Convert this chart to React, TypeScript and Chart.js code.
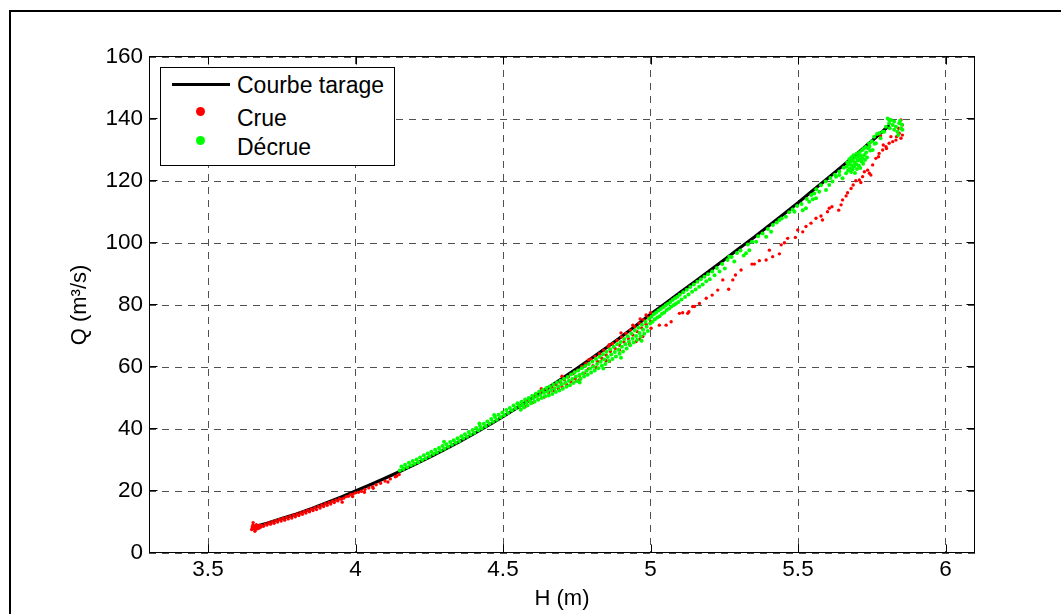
import React, { useEffect, useRef } from "react";
import { Chart, registerables } from "chart.js";

Chart.register(...registerables);

// ---- axis ticks ----
const xTickValues = [3.5, 4, 4.5, 5, 5.5, 6];
const yTickValues = [0, 20, 40, 60, 80, 100, 120, 140, 160];

// ---- rating curve (Courbe tarage) ----
const courbeH = [3.65, 3.7, 3.75, 3.8, 3.85, 3.9, 3.95, 4.0, 4.05, 4.1, 4.15, 4.2, 4.25, 4.3, 4.35, 4.4, 4.45, 4.5, 4.55, 4.6, 4.65, 4.7, 4.75, 4.8, 4.85, 4.9, 4.95, 5.0, 5.05, 5.1, 5.15, 5.2, 5.25, 5.3, 5.35, 5.4, 5.45, 5.5, 5.55, 5.6, 5.65, 5.7, 5.75, 5.81];
const courbeQ = [8.3, 9.6, 11.1, 12.6, 14.3, 16.1, 18.0, 20.0, 22.0, 24.1, 26.3, 28.5, 30.9, 33.3, 35.8, 38.4, 41.2, 44.0, 47.0, 50.0, 53.1, 56.3, 59.5, 62.8, 66.2, 69.7, 73.3, 77.0, 80.5, 84.0, 87.5, 91.0, 94.6, 98.2, 101.8, 105.5, 109.2, 113.0, 116.9, 120.8, 124.8, 128.8, 132.9, 138.0];

// ---- Crue (rising limb) [H, Q] ----
const crueLow: [number, number][] = [
  [3.648, 7.6], [3.65, 8.4], [3.652, 9.0], [3.653, 9.8], [3.655, 7.9], [3.657, 8.7], [3.659, 7.0], [3.66, 7.4], [3.662, 8.2], [3.664, 9.1], [3.667, 7.8], [3.669, 8.6], [3.672, 8.0], [3.675, 8.9], [3.678, 8.3],
  [3.682, 8.9], [3.688, 8.6], [3.694, 9.4], [3.7, 9.0], [3.706, 9.8], [3.712, 9.3], [3.718, 10.1], [3.724, 9.6], [3.73, 10.5], [3.736, 10.0], [3.742, 10.8], [3.748, 10.3], [3.754, 11.2], [3.76, 10.6], [3.766, 11.5], [3.772, 11.0], [3.778, 11.9], [3.784, 11.3], [3.79, 12.3], [3.796, 11.7],
  [3.802, 12.6], [3.808, 12.1], [3.814, 13.0], [3.82, 12.5], [3.826, 13.4], [3.832, 12.9], [3.838, 13.8], [3.844, 13.3], [3.85, 14.2], [3.856, 13.7], [3.862, 14.6], [3.868, 14.0], [3.874, 15.0], [3.88, 14.5], [3.886, 15.5], [3.892, 15.0], [3.898, 15.9],
  [3.904, 15.4], [3.91, 16.3], [3.916, 15.8], [3.922, 16.7], [3.928, 16.3], [3.934, 17.1], [3.94, 16.8], [3.946, 17.5], [3.952, 17.3], [3.96, 17.7], [3.968, 18.2], [3.976, 18.3], [3.984, 18.9], [3.992, 19.0],
  [4.0, 19.4], [4.01, 19.6], [4.02, 19.9], [4.032, 20.5], [4.045, 21.0], [4.058, 21.4], [4.07, 22.0], [4.085, 22.5], [4.1, 23.2], [4.118, 23.9], [4.135, 24.6], [4.148, 25.3],
  [3.955, 16.4], [3.99, 18.2], [4.03, 19.6], [4.06, 20.9], [4.11, 22.9], [4.14, 24.8],
];
const crueMid: [number, number][] = [
  [4.56, 46.3], [4.575, 47.2], [4.585, 48.9], [4.6, 48.5], [4.61, 50.7], [4.62, 49.5], [4.63, 52.0], [4.64, 50.3], [4.648, 52.8], [4.655, 51.8], [4.665, 53.5], [4.672, 52.4], [4.68, 54.3], [4.688, 53.0], [4.695, 55.1], [4.7, 53.6],
  [4.708, 55.9], [4.715, 54.4], [4.722, 56.8], [4.73, 55.2], [4.738, 57.9], [4.745, 56.3], [4.752, 59.0], [4.76, 57.1], [4.768, 60.2], [4.775, 58.0], [4.782, 61.2], [4.79, 59.4], [4.798, 62.5],
  [4.805, 60.4], [4.812, 63.4], [4.82, 61.8], [4.827, 64.3], [4.835, 62.8], [4.842, 65.4], [4.85, 63.8], [4.857, 66.5], [4.864, 65.0], [4.872, 67.6], [4.88, 66.0], [4.887, 68.6], [4.895, 67.0],
  [4.902, 69.7], [4.91, 68.1], [4.917, 70.8], [4.925, 69.2], [4.932, 71.9], [4.94, 70.3], [4.947, 73.0], [4.955, 71.4], [4.962, 74.1], [4.97, 72.6], [4.977, 75.2], [4.985, 73.8], [4.992, 76.0], [5.0, 74.8],
  [4.748, 55.5], [4.76, 56.0], [4.816, 59.8], [4.85, 62.0], [4.861, 61.8], [4.895, 65.5], [4.929, 67.4], [4.951, 68.2], [4.963, 69.0], [4.974, 69.8],
  [4.9, 71.0], [4.94, 73.5], [4.965, 75.5], [4.985, 76.8], [5.0, 77.5], [4.63, 53.0], [4.7, 57.0], [4.79, 62.3], [4.86, 67.2],
];
const crueHigh: [number, number][] = [
  [5.002, 72.5], [5.03, 73.5], [5.053, 73.5], [5.07, 74.6], [5.098, 77.3], [5.109, 77.5], [5.126, 77.3], [5.13, 77.8], [5.143, 79.5], [5.149, 79.5], [5.166, 80.5], [5.189, 82.2], [5.209, 83.2], [5.228, 84.8],
  [5.245, 88.1], [5.265, 85.1], [5.279, 88.1], [5.288, 89.7], [5.307, 91.3], [5.344, 93.2], [5.352, 93.2], [5.369, 94.3], [5.392, 94.5], [5.403, 97.7], [5.414, 95.6], [5.437, 96.5], [5.443, 99.4],
  [5.454, 100.1], [5.465, 101.5], [5.491, 101.8], [5.499, 104.2], [5.516, 103.6], [5.527, 105.3], [5.544, 106.4], [5.561, 108.0], [5.578, 108.7], [5.583, 107.4], [5.6, 110.1], [5.606, 111.2], [5.615, 111.7],
  [5.638, 110.6], [5.646, 112.3], [5.651, 113.9], [5.663, 115.2], [5.668, 116.2], [5.68, 117.6], [5.687, 118.7], [5.696, 120.1], [5.708, 120.3], [5.713, 119.5], [5.719, 121.4], [5.725, 123.0],
  [5.736, 123.5], [5.742, 122.5], [5.747, 121.9], [5.753, 125.2], [5.764, 127.3], [5.773, 127.8], [5.775, 128.9], [5.787, 130.0], [5.789, 131.6], [5.8, 130.5], [5.809, 132.2], [5.821, 132.7],
  [5.832, 133.2], [5.834, 134.3], [5.837, 135.9], [5.841, 137.0], [5.849, 139.7], [5.854, 138.1], [5.843, 135.4], [5.849, 133.8], [5.854, 134.8], [5.798, 131.1], [5.815, 134.3], [5.78, 134.5], [5.79, 136.0],
];

// ---- Décrue (falling limb) [H, Q] ----
const decrueLow: [number, number][] = [
  [4.15, 26.6], [4.156, 27.9], [4.162, 27.1], [4.168, 28.5], [4.175, 27.7], [4.181, 29.1], [4.188, 28.3], [4.194, 29.7], [4.2, 28.8], [4.207, 30.2], [4.213, 29.3], [4.219, 30.8], [4.226, 30.0], [4.232, 31.5], [4.238, 30.6], [4.245, 32.1],
  [4.251, 31.2], [4.257, 32.7], [4.264, 31.9], [4.27, 33.3], [4.276, 32.4], [4.283, 33.9], [4.289, 33.1], [4.295, 34.5], [4.302, 33.6], [4.308, 35.1], [4.314, 34.3], [4.321, 35.8], [4.327, 34.9], [4.333, 36.4],
  [4.34, 35.6], [4.346, 37.0], [4.352, 36.1], [4.359, 37.7], [4.365, 36.9], [4.371, 38.3], [4.378, 37.5], [4.384, 39.0], [4.39, 38.2], [4.397, 39.7], [4.403, 38.8], [4.409, 40.3], [4.416, 39.6], [4.422, 41.0],
  [4.428, 40.2], [4.435, 41.7], [4.441, 40.9], [4.447, 42.4], [4.454, 41.7], [4.46, 43.2], [4.466, 42.3], [4.473, 43.9], [4.479, 43.0], [4.485, 44.6], [4.492, 43.8], [4.498, 45.3], [4.504, 44.4], [4.511, 46.1],
  [4.517, 45.2], [4.523, 46.8], [4.53, 46.0], [4.536, 47.6], [4.542, 46.7], [4.549, 48.3], [4.3, 35.9], [4.42, 41.8], [4.47, 44.5],
];
const decrueMid: [number, number][] = [
  [4.552, 48.0], [4.556, 47.3], [4.56, 46.2], [4.563, 48.8], [4.567, 47.8], [4.571, 46.9], [4.575, 49.5], [4.579, 48.5], [4.583, 47.6], [4.587, 50.0], [4.591, 49.2], [4.595, 48.3], [4.599, 50.7],
  [4.603, 49.9], [4.607, 48.8], [4.611, 51.4], [4.615, 50.5], [4.619, 49.4], [4.623, 52.1], [4.627, 51.0], [4.631, 50.0], [4.635, 52.6], [4.639, 51.7], [4.643, 50.6], [4.647, 53.2], [4.651, 52.0],
  [4.655, 50.8], [4.659, 53.7], [4.663, 52.5], [4.667, 51.3], [4.671, 54.3], [4.675, 53.1], [4.679, 51.9], [4.683, 55.0], [4.687, 53.7], [4.691, 52.4], [4.695, 55.6], [4.699, 54.4],
  [4.703, 53.0], [4.707, 56.2], [4.711, 54.9], [4.715, 53.6], [4.719, 56.8], [4.723, 55.6], [4.727, 54.1], [4.731, 57.6], [4.735, 56.1], [4.739, 54.8], [4.743, 58.3], [4.747, 56.9], [4.751, 55.5],
  [4.755, 58.9], [4.759, 57.4], [4.763, 56.2], [4.767, 59.6], [4.771, 58.0], [4.775, 56.9], [4.779, 60.3], [4.783, 58.8], [4.787, 57.5], [4.791, 61.0], [4.795, 59.5], [4.799, 58.2],
  [4.803, 61.8], [4.807, 60.1], [4.811, 58.9], [4.815, 62.6], [4.819, 61.0], [4.823, 59.6], [4.827, 63.3], [4.831, 61.7], [4.835, 60.4], [4.839, 64.1], [4.843, 62.4], [4.847, 61.0],
  [4.851, 64.9], [4.855, 63.2], [4.859, 61.9], [4.863, 65.7], [4.867, 64.0], [4.871, 62.6], [4.875, 66.5], [4.879, 64.8], [4.883, 63.4], [4.887, 67.3], [4.891, 65.6], [4.895, 64.3], [4.899, 68.1],
  [4.903, 66.5], [4.907, 65.0], [4.911, 69.0], [4.915, 67.3], [4.919, 66.0], [4.923, 69.9], [4.927, 68.2], [4.931, 67.0], [4.935, 70.8], [4.939, 69.1], [4.943, 67.9], [4.947, 71.8], [4.951, 70.0],
  [4.955, 68.8], [4.959, 72.7], [4.963, 71.0], [4.967, 69.8], [4.971, 73.6], [4.975, 72.0], [4.979, 70.7], [4.983, 74.6], [4.987, 73.0], [4.991, 71.6], [4.995, 75.6], [4.999, 74.0],
  [4.76, 55.0], [4.84, 59.5], [4.9, 63.0], [4.97, 68.5],
];
const decrueHigh: [number, number][] = [
  [5.003, 76.2], [5.007, 74.6], [5.011, 77.0], [5.015, 75.4], [5.019, 77.6], [5.023, 76.0], [5.027, 78.2], [5.031, 76.4], [5.035, 78.7], [5.039, 77.2], [5.043, 79.3], [5.047, 77.6], [5.051, 79.9],
  [5.055, 78.4], [5.059, 80.4], [5.063, 78.9], [5.067, 81.0], [5.071, 79.5], [5.075, 81.6], [5.079, 80.0], [5.083, 82.2], [5.087, 80.5], [5.091, 82.7], [5.095, 81.0], [5.099, 83.3],
  [5.105, 81.8], [5.111, 84.1], [5.117, 82.6], [5.123, 84.9], [5.129, 83.4], [5.135, 85.8], [5.141, 84.3], [5.147, 86.6], [5.153, 85.0], [5.159, 87.5], [5.165, 85.9], [5.171, 88.3],
  [5.177, 86.6], [5.183, 89.1], [5.189, 87.7], [5.195, 89.9], [5.201, 88.3], [5.209, 90.8], [5.217, 89.6], [5.225, 91.9], [5.234, 90.8], [5.243, 93.2], [5.252, 91.8], [5.261, 94.5],
  [5.267, 95.6], [5.275, 95.5], [5.284, 94.0], [5.293, 96.8], [5.305, 97.6], [5.316, 96.0], [5.324, 96.7], [5.33, 99.5], [5.335, 97.7], [5.344, 100.4], [5.358, 100.4], [5.365, 102.2],
  [5.38, 103.1], [5.392, 102.0], [5.398, 104.5], [5.409, 103.6], [5.415, 105.8], [5.428, 106.6], [5.437, 107.4], [5.445, 107.9], [5.459, 108.5],
  [5.47, 109.9], [5.482, 110.8], [5.488, 110.1], [5.497, 111.9], [5.512, 112.6], [5.516, 110.6], [5.527, 111.2], [5.53, 114.2], [5.538, 113.3], [5.545, 115.5], [5.55, 114.1], [5.555, 116.0],
  [5.561, 114.4], [5.562, 117.3], [5.572, 116.5], [5.578, 118.6], [5.595, 117.1], [5.594, 119.8], [5.606, 118.7], [5.61, 121.0], [5.617, 119.8], [5.625, 122.0], [5.629, 121.4], [5.64, 121.9],
  [5.64, 123.1], [5.651, 120.9], [5.655, 124.3],
];
const decrueTop: [number, number][] = [
  [5.663, 122.5], [5.665, 124.6], [5.667, 126.0], [5.67, 123.4], [5.672, 125.3], [5.674, 127.0], [5.676, 124.0], [5.678, 126.1], [5.68, 122.9], [5.681, 127.7], [5.683, 125.0], [5.685, 123.8],
  [5.686, 126.8], [5.688, 128.3], [5.69, 124.7], [5.692, 126.0], [5.693, 122.6], [5.695, 127.5], [5.697, 125.4], [5.699, 128.8], [5.7, 123.9], [5.702, 126.6], [5.704, 127.9], [5.706, 125.0],
  [5.708, 129.3], [5.709, 126.9], [5.711, 124.2], [5.713, 128.2], [5.715, 126.3], [5.717, 129.9], [5.719, 127.4], [5.721, 125.6], [5.723, 130.5], [5.725, 128.4], [5.727, 126.8], [5.729, 131.0],
  [5.731, 129.2], [5.734, 127.6], [5.737, 130.6], [5.741, 132.1], [5.742, 131.1], [5.745, 129.8], [5.75, 132.8], [5.753, 130.0], [5.758, 134.3], [5.76, 132.0], [5.764, 132.2], [5.768, 135.2],
  [5.775, 135.4], [5.78, 133.8], [5.787, 135.9], [5.792, 135.9], [5.798, 137.5], [5.804, 140.2], [5.809, 139.7], [5.809, 138.6], [5.811, 137.0], [5.815, 139.7], [5.821, 138.1], [5.826, 139.2],
  [5.826, 136.5], [5.832, 137.5], [5.837, 135.9], [5.843, 138.6], [5.849, 137.0], [5.854, 136.5], [5.846, 139.4], [5.852, 138.2], [5.84, 134.8],
];

const FONT = "'Liberation Sans', Arial, Helvetica, sans-serif";

const toPoints = (arr: [number, number][]) => arr.map(([x, y]) => ({ x, y }));

const axesBoxPlugin = {
  id: "axesBox",
  afterDatasetsDraw(chart: any) {
    const { ctx, chartArea: a, scales } = chart;
    const L = Math.round(a.left) + 0.5;
    const R = Math.round(a.right) - 0.5;
    const T = Math.round(a.top) - 0.5;
    const B = Math.round(a.bottom) - 0.5;
    const tick = 8;
    ctx.save();
    ctx.setLineDash([]);
    ctx.strokeStyle = "#000";
    ctx.lineWidth = 1;
    ctx.beginPath();
    for (const v of xTickValues) {
      const px = Math.round(scales.x.getPixelForValue(v)) + 0.5;
      ctx.moveTo(px, B);
      ctx.lineTo(px, B - tick);
      ctx.moveTo(px, T);
      ctx.lineTo(px, T + tick);
    }
    for (const v of yTickValues) {
      const py = Math.round(scales.y.getPixelForValue(v)) - 0.5;
      ctx.moveTo(L, py);
      ctx.lineTo(L + tick, py);
      ctx.moveTo(R, py);
      ctx.lineTo(R - tick, py);
    }
    ctx.stroke();
    ctx.strokeRect(L, T, R - L, B - T);
    ctx.restore();
  },
};

export default function App() {
  const canvasRef = useRef<HTMLCanvasElement | null>(null);

  useEffect(() => {
    const canvas = canvasRef.current;
    if (!canvas) return;
    const tickFont = { family: FONT, size: 22.5 };
    const titleFont = { family: FONT, size: 22 };
    const chart = new Chart(canvas, {
      type: "scatter",
      data: {
        datasets: [
          {
            label: "Décrue",
            data: [...toPoints(decrueLow), ...toPoints(decrueMid), ...toPoints(decrueHigh), ...toPoints(decrueTop)],
            backgroundColor: "#00ff00",
            borderWidth: 0,
            pointRadius: 2,
            pointHoverRadius: 2,
            order: 0,
          },
          {
            label: "Crue",
            data: [...toPoints(crueLow), ...toPoints(crueMid), ...toPoints(crueHigh)],
            backgroundColor: "#ff0000",
            borderWidth: 0,
            pointRadius: 1.7,
            pointHoverRadius: 1.7,
            order: 1,
          },
          {
            label: "Courbe tarage",
            data: courbeH.map((h, i) => ({ x: h, y: courbeQ[i] })),
            showLine: true,
            borderColor: "#000000",
            backgroundColor: "#000000",
            borderWidth: 3.2,
            pointRadius: 0,
            tension: 0,
            order: 2,
          } as any,
        ],
      },
      options: {
        responsive: false,
        animation: false,
        events: [],
        layout: { padding: { left: 0, top: 57, right: 86, bottom: 0 } },
        plugins: { legend: { display: false }, tooltip: { enabled: false } },
        scales: {
          x: {
            type: "linear",
            position: "bottom",
            min: 3.3,
            max: 6.1,
            afterBuildTicks: (s: any) => {
              s.ticks = xTickValues.map((v) => ({ value: v }));
            },
            afterFit: (s: any) => {
              s.height = 61;
            },
            ticks: {
              callback: (v: any) => String(v),
              font: tickFont,
              color: "#000",
              padding: 3,
              maxRotation: 0,
              autoSkip: false,
            },
            grid: { color: "#505050", lineWidth: 1, drawTicks: false },
            border: { display: false, dash: [7, 6] },
            title: { display: true, text: "H (m)", font: titleFont, color: "#000", padding: { top: 0, bottom: 2 } },
          },
          y: {
            type: "linear",
            position: "left",
            min: 0,
            max: 160,
            afterBuildTicks: (s: any) => {
              s.ticks = yTickValues.map((v) => ({ value: v }));
            },
            afterFit: (s: any) => {
              s.width = 149;
            },
            ticks: {
              callback: (v: any) => String(v),
              font: tickFont,
              color: "#000",
              padding: 6,
              autoSkip: false,
            },
            grid: { color: "#505050", lineWidth: 1, drawTicks: false },
            border: { display: false, dash: [7, 6] },
            title: { display: true, text: "Q (m³/s)", font: titleFont, color: "#000", padding: { top: 67, bottom: 0 } },
          },
        },
      } as any,
      plugins: [axesBoxPlugin],
    });
    return () => chart.destroy();
  }, []);

  const legendText: React.CSSProperties = {
    position: "absolute",
    left: 237,
    fontFamily: FONT,
    fontSize: 23,
    lineHeight: "23px",
    color: "#000",
    whiteSpace: "nowrap",
  };

  return (
    <div style={{ position: "fixed", left: 0, top: 0, width: 1061, height: 614, background: "#fff", overflow: "hidden" }}>
      <canvas ref={canvasRef} width={1061} height={614} style={{ position: "absolute", left: 0, top: 0, width: 1061, height: 614 }} />
      <div
        style={{
          position: "absolute",
          left: 9,
          top: 10,
          width: 1100,
          height: 700,
          borderLeft: "2px solid #000",
          borderTop: "2px solid #000",
          pointerEvents: "none",
        }}
      />
      <div
        style={{
          position: "absolute",
          left: 160,
          top: 67,
          width: 235,
          height: 99,
          boxSizing: "border-box",
          border: "1px solid #000",
          background: "#fff",
        }}
      />
      <div style={{ position: "absolute", left: 172, top: 83, width: 58, height: 3, background: "#000" }} />
      <div style={{ position: "absolute", left: 195.5, top: 107, width: 9, height: 9, borderRadius: "50%", background: "#ff0000" }} />
      <div style={{ position: "absolute", left: 195.5, top: 136, width: 9, height: 9, borderRadius: "50%", background: "#00ff00" }} />
      <div style={{ ...legendText, top: 74 }}>Courbe tarage</div>
      <div style={{ ...legendText, top: 106.7 }}>Crue</div>
      <div style={{ ...legendText, top: 135.7 }}>Décrue</div>
    </div>
  );
}
